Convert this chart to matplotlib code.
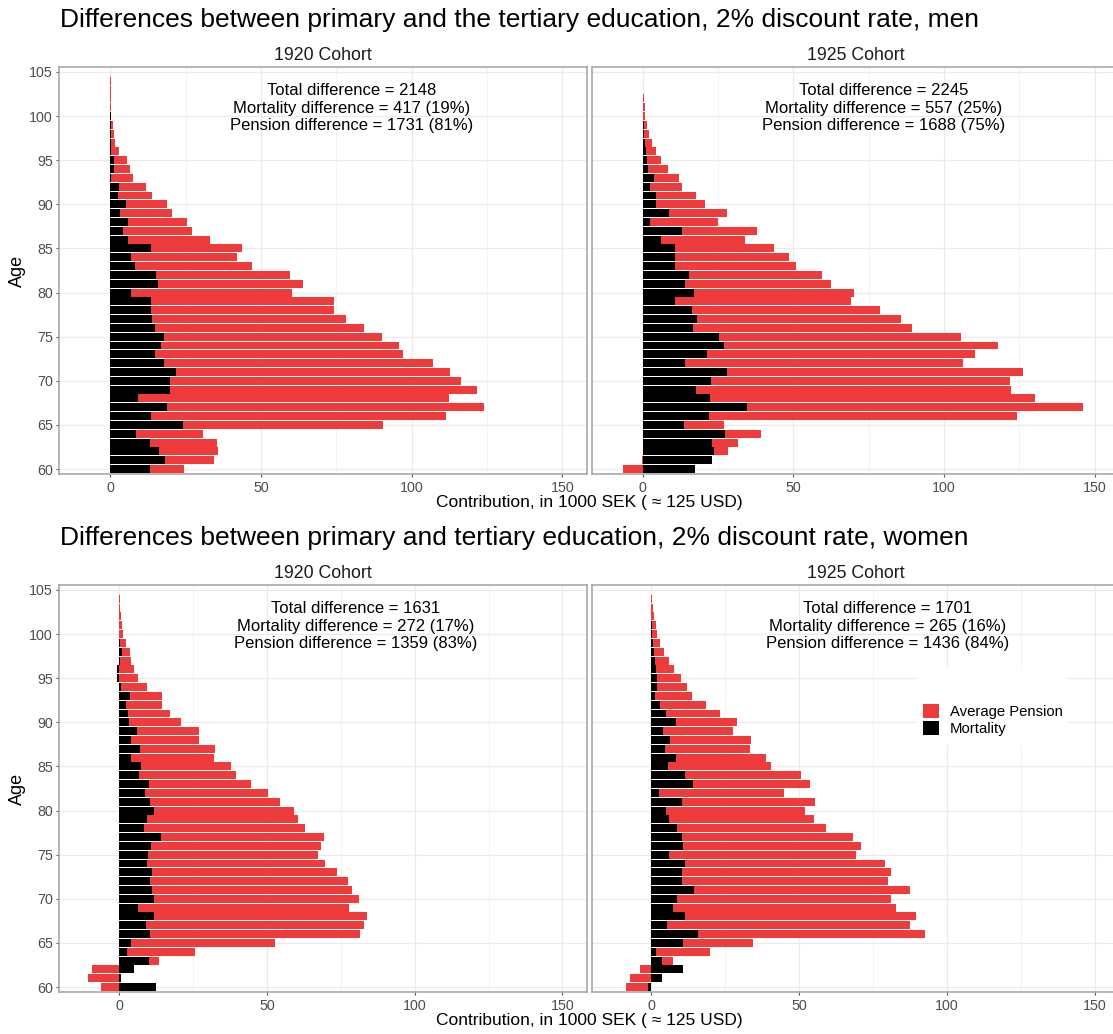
import numpy as np
import matplotlib
matplotlib.use("Agg")
import matplotlib.pyplot as plt
from matplotlib.patches import Patch, Rectangle

plt.rcParams["font.family"] = ["Liberation Sans", "DejaVu Sans"]

# ---------------------------------------------------------------- data
ages = list(range(60, 105))

# Men, 1920 cohort (1000 SEK)
men_1920_mortality = [13.1, 18.3, 16.1, 13.1, 8.6, 24.0, 13.5, 18.9, 9.3, 19.9,
                      19.9, 21.7, 17.9, 15.0, 16.8, 18.0, 15.0, 14.0, 13.4, 13.4,
                      7.0, 15.8, 15.3, 8.1, 7.0, 13.5, 6.0, 4.2, 6.0, 3.3,
                      5.2, 2.5, 2.9, 0.4, 1.2, 1.2, 0.3, 0.2, 0.2, 0.1,
                      0.1, 0.0, 0.0, 0.0, 0.0]
men_1920_pension = [11.4, 16.0, 19.8, 22.2, 22.1, 66.6, 98.0, 105.2, 103.2, 101.7,
                    96.4, 91.1, 89.1, 82.1, 79.0, 72.2, 69.2, 64.3, 61.0, 60.7,
                    53.2, 48.0, 44.3, 38.9, 35.1, 30.3, 27.0, 23.0, 19.4, 17.2,
                    13.6, 11.2, 8.9, 7.3, 5.4, 4.3, 2.7, 1.5, 1.0, 0.7,
                    0.3, 0.3, 0.2, 0.15, 0.1]

# Men, 1925 cohort
men_1925_mortality = [17.4, 22.9, 23.8, 23.1, 27.2, 13.8, 21.9, 34.7, 22.5, 17.6,
                      22.7, 28.0, 14.0, 21.2, 27.1, 25.4, 16.8, 18.0, 16.5, 10.6,
                      17.1, 14.0, 15.3, 10.8, 10.6, 10.6, 6.2, 12.9, 2.3, 8.6,
                      4.4, 4.4, 2.5, 3.9, 1.9, 1.5, 1.1, 0.9, 0.6, 0.3,
                      0.2, 0.1, 0.1, 0.0, 0.0]
men_1925_pension = [-6.6, -0.3, 4.4, 8.5, 12.0, 13.1, 102.2, 111.4, 107.6, 104.7,
                    99.1, 98.2, 92.2, 89.2, 90.7, 80.4, 72.6, 67.7, 62.3, 58.5,
                    53.1, 48.4, 44.2, 40.0, 38.1, 32.9, 27.9, 25.2, 22.6, 19.4,
                    16.3, 13.4, 10.7, 8.3, 6.4, 4.7, 3.3, 2.2, 1.5, 1.0,
                    0.7, 0.6, 0.3, 0.05, 0.0]

# Women, 1920 cohort
women_1920_mortality = [12.4, 0.8, 4.9, 10.0, 2.7, 4.2, 10.4, 9.2, 11.9, 6.5,
                        11.8, 11.2, 10.4, 11.0, 9.4, 9.8, 10.8, 14.2, 8.4, 9.4,
                        11.8, 10.4, 8.7, 10.0, 6.9, 7.4, 3.9, 7.2, 4.2, 6.2,
                        3.3, 3.1, 2.4, 3.7, 0.8, -0.8, -0.6, 0.4, 1.0, 0.3,
                        0.1, 0.0, 0.0, 0.0, 0.0]
women_1920_pension = [-6.1, -10.6, -9.0, 3.4, 23.1, 48.4, 71.2, 73.6, 71.9, 71.4,
                      69.4, 67.5, 67.2, 62.6, 60.3, 57.6, 57.6, 55.0, 54.4, 51.0,
                      47.3, 44.0, 41.7, 34.7, 32.8, 30.5, 28.1, 25.4, 22.7, 20.9,
                      17.5, 14.2, 12.3, 10.7, 8.6, 6.5, 4.9, 3.8, 2.6, 1.9,
                      1.1, 0.9, 0.6, 0.4, 0.3]

# Women, 1925 cohort
women_1925_mortality = [-1.1, 3.7, 10.8, 3.5, 1.4, 10.6, 15.6, 5.2, 11.5, 7.4,
                        8.8, 14.4, 10.3, 10.3, 11.5, 5.8, 10.7, 10.3, 8.7, 6.0,
                        4.9, 10.4, 2.4, 14.1, 11.5, 5.6, 8.2, 4.6, 6.4, 4.0,
                        8.2, 4.9, 2.9, 1.1, 1.9, 1.9, 1.7, 1.1, 0.8, 0.6,
                        0.3, 0.1, 0.0, 0.0, 0.0]
women_1925_pension = [-7.6, -7.3, -3.8, 3.9, 18.5, 23.7, 76.8, 82.4, 77.9, 75.3,
                      72.4, 73.2, 69.8, 70.6, 67.6, 63.4, 60.2, 58.0, 50.2, 49.0,
                      46.9, 44.8, 42.4, 39.6, 39.1, 34.8, 30.6, 28.6, 27.2, 23.5,
                      20.9, 18.2, 15.6, 12.7, 10.1, 8.1, 6.1, 4.7, 3.3, 2.3,
                      1.6, 1.3, 0.9, 0.6, 0.3]

cohorts = ["1920 Cohort", "1925 Cohort"]
titles = ["Differences between primary and the tertiary education, 2% discount rate, men",
          "Differences between primary and tertiary education, 2% discount rate, women"]
summaries = [
    [(2148, 417, 19, 1731, 81), (2245, 557, 25, 1688, 75)],
    [(1631, 272, 17, 1359, 83), (1701, 265, 16, 1436, 84)],
]
series = [
    [(men_1920_mortality, men_1920_pension), (men_1925_mortality, men_1925_pension)],
    [(women_1920_mortality, women_1920_pension), (women_1925_mortality, women_1925_pension)],
]
x_limits = [(-16.9, 158.3), (-20.2, 158.4)]

# ---------------------------------------------------------------- style
RED = "#EE3B3B"
BLACK = "#000000"
GRID_MAJOR = "#ebebeb"
GRID_MINOR = "#f3f3f3"
SPINE = "#a8a8a8"
TICK_TXT = "#4d4d4d"

W, H = 1113, 1034
fig = plt.figure(figsize=(W / 100, H / 100), dpi=100)


def add_axes_px(left, top, width, height):
    return fig.add_axes([left / W, 1 - (top + height) / H, width / W, height / H])


panel_w, panel_h = 528, 407.6
lefts = [59.3, 591.7]
tops = [66.7, 584.7]

ages_arr = np.array(ages)
for row in range(2):
    top = tops[row]
    fig.text(60 / W, 1 - (top - 47) / H, titles[row], fontsize=19,
             ha="left", va="center", color="black")
    for col in range(2):
        ax = add_axes_px(lefts[col], top, panel_w, panel_h)
        mort = np.array(series[row][col][0])
        pens = np.array(series[row][col][1])
        # stacked: mortality next to zero, pension beyond it (same sign stacks)
        same_sign = np.sign(mort) == np.sign(pens)
        pens_left = np.where(same_sign, mort, 0.0)
        ax.barh(ages_arr, mort, height=0.9, color=BLACK, zorder=2, linewidth=0)
        ax.barh(ages_arr, pens, left=pens_left, height=0.9, color=RED, zorder=2, linewidth=0)

        ax.set_xlim(*x_limits[row])
        ax.set_ylim(59.4, 105.6)
        ax.set_xticks([0, 50, 100, 150])
        ax.set_xticks([25, 75, 125], minor=True)
        ax.set_yticks(range(60, 106, 5))
        ax.grid(True, which="major", color=GRID_MAJOR, linewidth=0.9, zorder=0)
        ax.grid(True, which="minor", axis="x", color=GRID_MINOR, linewidth=0.7, zorder=0)
        ax.set_axisbelow(True)
        for sp in ax.spines.values():
            sp.set_color(SPINE)
            sp.set_linewidth(1.2)
        ax.tick_params(which="minor", length=0)
        ax.tick_params(which="major", length=2.2, width=0.8, color="#555555",
                       labelsize=10.3, labelcolor=TICK_TXT, pad=2.5)
        if col == 1:
            ax.tick_params(axis="y", length=0, labelleft=False)
        else:
            ax.set_ylabel("Age", fontsize=13, labelpad=2)

        ax.set_title(cohorts[col], fontsize=12.8, color="#1a1a1a", pad=5)

        tot, md, mp, pd_, pp = summaries[row][col]
        ax.text(80, 100.9, f"Total difference = {tot}\n"
                           f"Mortality difference = {md} ({mp}%)\n"
                           f"Pension difference = {pd_} ({pp}%)",
                ha="center", va="center", fontsize=12, linespacing=1.2, zorder=3)

        if row == 1 and col == 1:
            box = Rectangle((917 / W, 1 - 745 / H), 150 / W, 77 / H,
                            transform=fig.transFigure, facecolor="white",
                            edgecolor="none", zorder=1)
            ax.add_patch(box)
            handles = [Patch(facecolor=RED, edgecolor="none", label="Average Pension"),
                       Patch(facecolor=BLACK, edgecolor="none", label="Mortality")]
            ax.legend(handles=handles, loc="upper left",
                      bbox_to_anchor=(923 / W, 1 - 704 / H),
                      bbox_transform=fig.transFigure, frameon=False, fontsize=10.7,
                      handlelength=1.07, handleheight=1.07, handletextpad=0.75,
                      labelspacing=0.1, borderpad=0, borderaxespad=0)

    fig.text(589.5 / W, 1 - (top + panel_h + 28) / H,
             "Contribution, in 1000 SEK ( \u2248 125 USD)",
             fontsize=12.5, ha="center", va="center")

fig.savefig("out.png", dpi=100, facecolor="white")
